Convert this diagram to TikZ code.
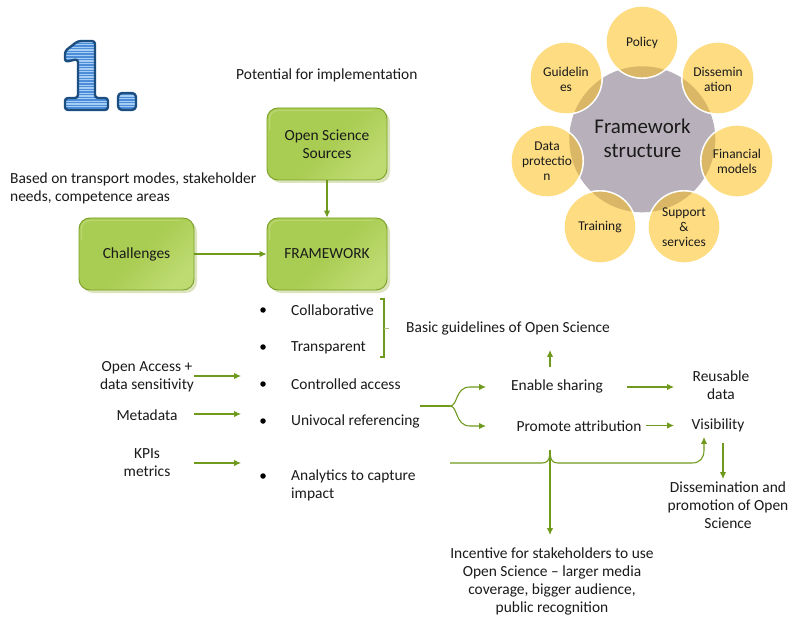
\documentclass[tikz,border=0pt]{standalone}
\usepackage{fontspec}
\setmainfont{Carlito}
\usetikzlibrary{arrows.meta}
\definecolor{grn}{HTML}{6F9A1E}
\definecolor{grnd}{HTML}{7A9E26}
\definecolor{grna}{HTML}{A9CC52}
\definecolor{grnb}{HTML}{BEDB72}
\definecolor{grnh}{HTML}{BAD670}
\definecolor{grns}{HTML}{DCE4BE}
\definecolor{yel}{HTML}{FDDC82}
\definecolor{tan}{HTML}{D9B766}
\definecolor{gry}{HTML}{B8B0BA}
\definecolor{txt}{HTML}{1A1A1A}
\definecolor{numdark}{HTML}{1D4E80}
\definecolor{numa}{HTML}{4C8CD8}
\definecolor{numb}{HTML}{A6CEF4}
\tikzset{
  lab/.style={inner sep=0pt,align=center,text=txt,font=\fontsize{15.5}{18}\selectfont},
  labl/.style={lab,anchor=west,align=left},
  small/.style={lab,font=\fontsize{13.5}{15}\selectfont},
  conn/.style={draw=grn,line width=1.1pt,-{Latex[length=7pt,width=6.5pt]}},
  plainc/.style={draw=grn,line width=1.1pt},
  gbox/.style={rounded corners=11bp,draw=grnd,line width=0.9pt,minimum height=72bp,
    inner sep=0pt,align=center,text=txt,font=\fontsize{15.5}{18}\selectfont,
    top color=grna,bottom color=grnb,middle color=grna,shading angle=45},
  bullet/.style={circle,fill=black,minimum size=5.5bp,inner sep=0pt},
}
\begin{document}
\begin{tikzpicture}[x=1bp,y=-1bp]
\useasboundingbox[fill=white] (0,0) rectangle (788,619);

% numeral
\def\onepath{(95,41) -- (78,41) -- (65,51) -- (65,62) -- (78,59) -- (78,98) -- (65,98) -- (65,110) -- (108,110) -- (108,98) -- (95,98) -- cycle}
\def\dotpath{(118,93) -- (136,93) -- (136,110) -- (118,110) -- cycle}
\begin{scope}
\clip[rounded corners=3bp] \onepath \dotpath;
\fill[numb] (60,36) rectangle (140,114);
\foreach \yy in {40,42.7,...,112}{\fill[numa] (60,\yy) rectangle (140,\yy+1.4);}
\end{scope}
\draw[numdark,line width=2.4pt,rounded corners=3bp,line join=round] \onepath;
\draw[numdark,line width=2.4pt,rounded corners=4bp,line join=round] \dotpath;

% framework wheel
\coordinate (hub) at (642.3,139.3);
\fill[gry] (hub) circle[radius=73];
\foreach \nm/\cx/\cy in {a/642/42,b/718/78,c/737/161,d/684/227,e/600/227,f/547/161,g/566/78}{
  \coordinate (c\nm) at (\cx,\cy);
  \fill[white] (c\nm) circle[radius=37];
  \fill[yel] (c\nm) circle[radius=35.3];
}
\begin{scope}
\clip (hub) circle[radius=73];
\foreach \nm in {a,b,c,d,e,f,g}{\fill[tan] (c\nm) circle[radius=35.3];}
\end{scope}
\node[lab,font=\fontsize{21}{24}\selectfont] (fs) at (642.5,138.5) {Framework\\structure};
\node[small] (pa) at (642,42.5) {Policy};
\node[small] (pb) at (718,79) {Dissemin\\ation};
\node[small] (pc) at (737,161) {Financial\\models};
\node[small] (pd) at (684,227) {Support\\\&\\services};
\node[small] (pe) at (600,227.5) {Training};
\node[small] (pf) at (547,161) {Data\\protectio\\n};
\node[small] (pg) at (566,79) {Guidelin\\es};

% green boxes
\foreach \xa/\ya/\xb/\yb in {267/108/387/180,267/218/387/290,79/218/194/290}{
  \fill[grns,rounded corners=11bp] (\xa+3,\ya+3) rectangle (\xb+3,\yb+3);
}
\node[gbox,minimum width=120bp] (src) at (327,144) {Open Science\\Sources};
\node[gbox,minimum width=120bp] (fw) at (327,254) {FRAMEWORK};
\node[gbox,minimum width=115bp] (ch) at (136.5,254) {Challenges};
\foreach \xa/\ya/\xb in {267/108/387,267/218/387,79/218/194}{
  \draw[grnh,line width=1.5pt,rounded corners=8bp] (\xa+2.5,\ya+22) -- (\xa+2.5,\ya+2.5) -- (\xb-14,\ya+2.5);
}

\draw[conn] (src) -- (fw);
\draw[conn] (ch) -- (fw);

% free labels
\node[labl] (pot) at (236,75.5) {Potential for implementation};
\node[labl] (based) at (10,188) {Based on transport modes, stakeholder\\needs, competence areas};
\node[labl] (basic) at (406,328.5) {Basic guidelines of Open Science};

% bullets
\foreach \nm/\yy in {a/310,b/347,c/384,d/421,e/476}{\node[bullet] (bu\nm) at (263,\yy) {};}
\node[labl] (collab) at (291,310.5) {Collaborative};
\node[labl] (transp) at (291,347.5) {Transparent};
\node[labl] (ctrl) at (291,384.5) {Controlled access};
\node[labl] (univ) at (291,421.5) {Univocal referencing};
\node[labl] (analy) at (291,485.5) {Analytics to capture\\impact};

% bracket
\coordinate (bra) at (380,299);
\coordinate (brb) at (384,299);
\coordinate (brc) at (384,357);
\coordinate (brd) at (380,357);
\coordinate (bre) at (384,328);
\coordinate (brf) at (389,328);
\draw[grn,line width=1.2pt] (bra) -- (brb) -- (brc) -- (brd);
\draw[grn!60,line width=0.6pt] (bre) -- (brf);

% left inputs
\node[lab] (oa) at (147,377) {Open Access +\\data sensitivity};
\node[lab] (meta) at (147,415) {Metadata};
\node[lab] (kpi) at (147,463) {KPIs\\metrics};
\coordinate (oae) at (241,376);
\coordinate (mee) at (241,414);
\coordinate (kpe) at (241,463);
\coordinate (oas) at (194,376);
\coordinate (mes) at (194,414);
\coordinate (kps) at (194,463);
\draw[conn] (oas) -- (oae);
\draw[conn] (mes) -- (mee);
\draw[conn] (kps) -- (kpe);

% right side
\node[lab] (share) at (557,386.5) {Enable sharing};
\node[lab] (promo) at (579,426.5) {Promote attribution};
\node[lab] (reuse) at (721,385.5) {Reusable\\data};
\node[lab] (vis) at (718,425.5) {Visibility};
\node[lab] (diss) at (728,505.5) {Dissemination and\\promotion of Open\\Science};
\node[lab] (inc) at (552,581.5) {Incentive for stakeholders to use\\Open Science -- larger media\\coverage, bigger audience,\\public recognition};

\coordinate (upa) at (550,367);
\coordinate (upb) at (550,350);
\draw[conn] (upa) -- (upb);

\coordinate (fka) at (420,406);
\coordinate (fkb) at (450,406);
\coordinate (fku) at (486,387);
\coordinate (fkd) at (486,426);
\draw[plainc] (fka) -- (fkb);
\draw[conn] (fkb) .. controls (458,406) and (455,387) .. (470,387) -- (fku);
\draw[conn] (fkb) .. controls (458,406) and (455,426) .. (470,426) -- (fkd);

\coordinate (sra) at (627,387);
\coordinate (srb) at (674,387);
\draw[conn] (sra) -- (srb);
\coordinate (pva) at (646,425.5);
\coordinate (pvb) at (674,425.5);
\draw[conn] (pva) -- (pvb);

\coordinate (bga) at (450,463);
\coordinate (bgt) at (550,450);
\coordinate (bgv) at (704,437);
\coordinate (bgd) at (550,535);
\draw[plainc] (bga) -- (542,463) .. controls (547,463) and (550,461) .. (bgt);
\draw[conn] (bgt) .. controls (550,461) and (553,463) .. (558,463) -- (692,463) .. controls (700,463) and (704,458) .. (704,450) -- (bgv);
\draw[conn] (bgt) -- (bgd);

\coordinate (vda) at (723,443);
\coordinate (vdb) at (723,479);
\draw[conn] (vda) -- (vdb);
\end{tikzpicture}
\end{document}
